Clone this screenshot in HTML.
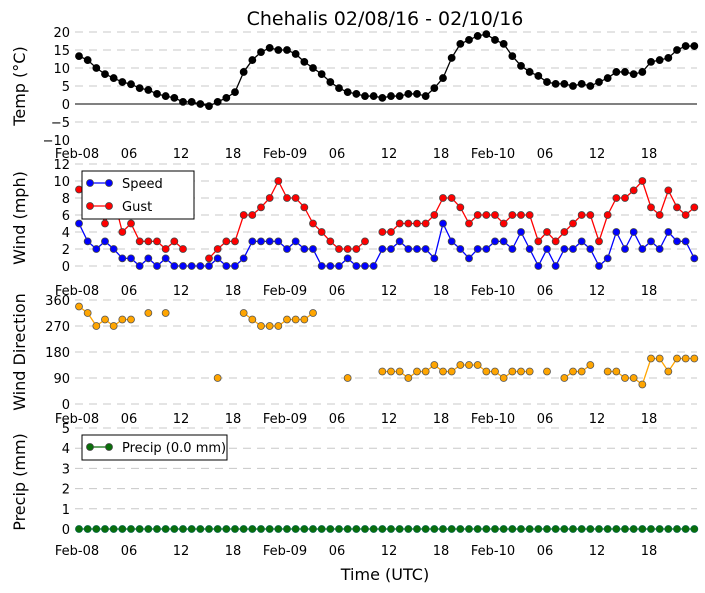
<!DOCTYPE html>
<html><head><meta charset="utf-8"><style>
body{margin:0;background:#fff}
svg{display:block;font-family:"DejaVu Sans","Liberation Sans",sans-serif}
</style></head><body>
<svg id="chart" width="705" height="593" viewBox="0 0 705 593">
<text x="385" y="25" font-size="19" text-anchor="middle">Chehalis 02/08/16 - 02/10/16</text>
<text x="385" y="580" font-size="16" text-anchor="middle">Time (UTC)</text>
</svg>
<script>
const xTickLabels=["Feb-08","06","12","18","Feb-09","06","12","18","Feb-10","06","12","18"];
const temp=[13.3,12.2,10,8.3,7.2,6.1,5.5,4.4,3.9,2.8,2.2,1.7,0.6,0.6,0,-0.6,0.6,1.7,3.3,8.9,12.2,14.4,15.6,15,15,13.9,11.7,10,8.3,6.1,4.4,3.3,2.8,2.2,2.2,1.7,2.2,2.2,2.8,2.8,2.2,4.4,7.2,12.8,16.7,17.8,18.9,19.4,17.8,16.7,13.3,10.6,8.9,7.8,6.1,5.6,5.6,5,5.6,5,6.1,7.2,8.9,8.9,8.3,8.9,11.7,12.2,12.8,15,16.1,16.1];
const speed=[5,2.9,2,2.9,2,0.9,0.9,0,0.9,0,0.9,0,0,0,0,0,0.9,0,0,0.9,2.9,2.9,2.9,2.9,2,2.9,2,2,0,0,0,0.9,0,0,0,2,2,2.9,2,2,2,0.9,5,2.9,2,0.9,2,2,2.9,2.9,2,4,2,0,2,0,2,2,2.9,2,0,0.9,4,2,4,2,2.9,2,4,2.9,2.9,0.9];
const gust=[9,9,8,5,8,4,5,2.9,2.9,2.9,2,2.9,2,null,null,0.9,2,2.9,2.9,6,6,6.9,8,10,8,8,6.9,5,4,2.9,2,2,2,2.9,null,4,4,5,5,5,5,6,8,8,6.9,5,6,6,6,5,6,6,6,2.9,4,2.9,4,5,6,6,2.9,6,8,8,8.9,10,6.9,6,8.9,6.9,6,6.9];
const dir=[337.5,315,270,292.5,270,292.5,292.5,null,315,null,315,null,null,null,null,null,90,null,null,315,292.5,270,270,270,292.5,292.5,292.5,315,null,null,null,90,null,null,null,112.5,112.5,112.5,90,112.5,112.5,135,112.5,112.5,135,135,135,112.5,112.5,90,112.5,112.5,112.5,null,112.5,null,90,112.5,112.5,135,null,112.5,112.5,90,90,67.5,157.5,157.5,112.5,157.5,157.5,157.5];
const precip=new Array(72).fill(0);
const tempTicks=[20,15,10,5,0,-5,-10];
const windTicks=[12,10,8,6,4,2,0];
const dirTicks=[360,270,180,90,0];
const precipTicks=[5,4,3,2,1,0];

const NS="http://www.w3.org/2000/svg";
const svg=document.getElementById('chart');
const X=h=>79+h*(52/6);
function mk(tag,attrs,parent){const e=document.createElementNS(NS,tag);for(const k in attrs)e.setAttribute(k,attrs[k]);(parent||svg).appendChild(e);return e;}
function panel(name,yOf,ticks,title,titleY,xLabY,showGrid){
  const g=mk('g',{});
  
  
  ticks.forEach(t=>{
    const y=yOf(t);
    if(showGrid(t)){const l=mk('line',{x1:75,x2:697,y1:y,y2:y,stroke:'#c8c8c8','stroke-dasharray':'8,6','stroke-width':1},g);
    
    }
    const tx=mk('text',{x:70,y:y+5,'font-size':13,'text-anchor':'end'},g);tx.textContent=String(t).replace('-','\u2212');
    
    
  });
  xTickLabels.forEach((s,i)=>{const tx=mk('text',{x:X(i*6)-2,y:xLabY,'font-size':13,'text-anchor':'middle'},g);tx.textContent=s;
    
    });
  const tt=mk('text',{x:0,y:0,'font-size':16,'text-anchor':'middle',transform:`translate(25,${titleY}) rotate(-90)`},g);tt.textContent=title;
  
  
  return g;
}
function series(name,data,yOf,color,edge){
  const g=mk('g',{});
  
  
  let seg=[];
  const segs=[];
  data.forEach((v,i)=>{if(v===null){if(seg.length)segs.push(seg);seg=[];}else seg.push([X(i),yOf(v)]);});
  if(seg.length)segs.push(seg);
  segs.forEach(s=>{if(s.length>1){const p=mk('polyline',{points:s.map(q=>q.join(',')).join(' '),fill:'none',stroke:color,'stroke-width':1.3},g);
    
    }});
  data.forEach((v,i)=>{if(v===null)return;const c=mk('circle',{cx:X(i),cy:yOf(v),r:3.5,fill:color,stroke:edge,'stroke-width':0.8},g);
    
    });
}
const yT=v=>104-v*3.6;
const yW=v=>266-v*8.5;
const yD=v=>404-v*(104/360);
const yP=v=>529-v*20.2;
panel('temp',yT,tempTicks,'Temp (°C)',86,158,t=>t!==0&&t!==-10);
const zl=mk('line',{x1:75,x2:697,y1:yT(0),y2:yT(0),stroke:'#000','stroke-width':1});


series('temp',temp,yT,'#000','#000');
panel('wind',yW,windTicks,'Wind (mph)',218,295,t=>true);
series('gust',gust,yW,'#f00','#444');
series('speed',speed,yW,'#00f','#444');
panel('direction',yD,dirTicks,'Wind Direction',352,423,t=>true);
series('direction',dir,yD,'#ffa500','#555');
panel('precip',yP,precipTicks,'Precip (mm)',482,555,t=>true);
series('precip',precip,yP,'#0a6e0a','#064');

function legend(name,x,y,w,entries){
  const g=mk('g',{});
  
  
  mk('rect',{x:x,y:y,width:w,height:entries.length*23+2,fill:'#fff',stroke:'#000','stroke-width':1},g);
  entries.forEach((e,i)=>{const cy=y+12+i*23;
    mk('line',{x1:x+8,x2:x+27,y1:cy,y2:cy,stroke:e[1],'stroke-width':1.3},g);
    mk('circle',{cx:x+8,cy:cy,r:3.5,fill:e[1],stroke:'#444','stroke-width':0.8},g);
    mk('circle',{cx:x+27,cy:cy,r:3.5,fill:e[1],stroke:'#444','stroke-width':0.8},g);
    const t=mk('text',{x:x+40,y:cy+5,'font-size':13},g);t.textContent=e[0];
    
    });
}
legend('wind-legend',82,171,112,[['Speed','#00f'],['Gust','#f00']]);
legend('precip-legend',82,435,145,[['Precip (0.0 mm)','#0a6e0a']]);
</script>
</body></html>
